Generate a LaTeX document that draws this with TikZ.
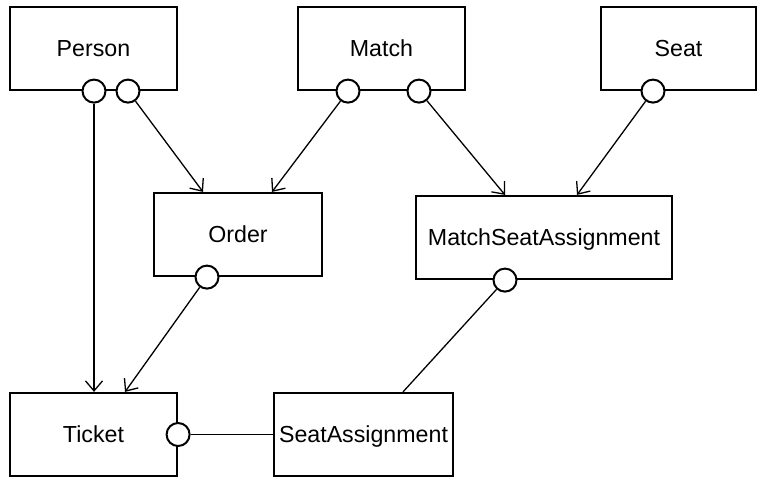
\documentclass[tikz,border=0pt]{standalone}
\usepackage{fontspec}
\setmainfont{Liberation Sans}
\usetikzlibrary{arrows.meta}

\begin{document}
\begin{tikzpicture}[x=1pt, y=-1pt,
    entity/.style={draw, line width=2.2pt, rectangle, inner sep=0pt,
        minimum width=167pt, minimum height=83pt,
        font=\fontsize{23.2}{27}\selectfont, text depth=0pt},
    port/.style={draw, line width=2pt, circle, fill=white, inner sep=0pt,
        minimum size=23pt},
    conn/.style={line width=1.3pt},
    ref/.style={conn, -{Straight Barb[length=10pt, width=17pt, line width=1.3pt]}}]
    \useasboundingbox (0,0) rectangle (758,479);

    % Entities
    \node[entity] (person) at (93.5,48.5) {Person};
    \node[entity] (match) at (381.5,48.5) {Match};
    \node[entity, minimum width=155pt] (seat) at (678.5,48.5) {Seat};
    \node[entity, minimum width=168pt] (order) at (238,234.5) {Order};
    \node[entity, minimum width=256pt] (msa) at (544,237.5) {MatchSeatAssignment};
    \node[entity] (ticket) at (93.5,434.5) {Ticket};
    \node[entity, minimum width=179pt] (seatasg) at (363.5,434.5) {SeatAssignment};

    % Port positions on the box borders
    \coordinate (personA) at ([xshift=0.5pt]person.south);
    \coordinate (personB) at ([xshift=34.5pt]person.south);
    \coordinate (matchA) at ([xshift=-33.5pt]match.south);
    \coordinate (matchB) at ([xshift=37.5pt]match.south);
    \coordinate (seatA) at ([xshift=-25.5pt]seat.south);
    \coordinate (orderA) at ([xshift=-31pt]order.south);
    \coordinate (msaA) at ([xshift=-39pt]msa.south);

    % Ports
    \node[port] (pp1) at (personA) {};
    \node[port] (pp2) at (personB) {};
    \node[port] (mp1) at (matchA) {};
    \node[port] (mp2) at (matchB) {};
    \node[port] (sp1) at (seatA) {};
    \node[port] (op1) at (orderA) {};
    \node[port] (ap1) at (msaA) {};
    \node[port] (tp1) at (ticket.east) {};

    % References
    \draw[ref] (pp1) -- (pp1 |- ticket.north);
    \draw[ref] (pp2) -- ([xshift=-35pt]order.north);
    \draw[ref] (mp1) -- ([xshift=34pt]order.north);
    \draw[ref] (mp2) -- ([xshift=-39pt]msa.north);
    \draw[ref] (sp1) -- ([xshift=33pt]msa.north);
    \draw[ref] (op1) -- ([xshift=31.5pt]ticket.north);
    \draw[conn] (ap1) -- ([xshift=39.5pt]seatasg.north);
    \draw[conn] (tp1) -- (seatasg.west);
\end{tikzpicture}
\end{document}
